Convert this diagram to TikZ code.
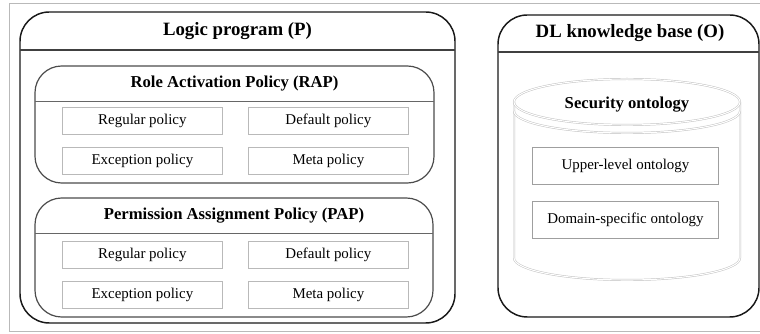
\documentclass[tikz,border=0pt]{standalone}
\usepackage{fontspec}
\setmainfont{Liberation Serif}
\def\px{0.75pt}
\begin{document}
\begin{tikzpicture}[x=0.75pt,y=-0.75pt,
  container/.style={draw=black!90, line width=1.1pt, rounded corners=22pt,
    anchor=north west, inner sep=0pt, outer sep=0pt},
  subcontainer/.style={draw=black!70, line width=0.9pt, rounded corners=20pt,
    anchor=north west, inner sep=0pt, outer sep=0pt},
  divider/.style={draw=black!75, line width=1pt},
  subdivider/.style={draw=black!60, line width=0.7pt},
  title/.style={font=\bfseries\fontsize{14.1}{16}\selectfont},
  subtitle/.style={font=\bfseries\fontsize{12.5}{15}\selectfont},
  policy/.style={draw=gray!55, line width=0.6pt, anchor=north west,
    minimum width=160*\px, minimum height=27*\px, inner sep=0pt,
    font=\fontsize{11.2}{13}\selectfont},
  ontobox/.style={draw=gray!75, line width=0.7pt, anchor=north west,
    minimum width=186*\px, minimum height=37.5*\px, inner sep=0pt,
    font=\fontsize{11.2}{13}\selectfont},
  cyl/.style={draw=gray!50, line width=0.35pt, double=white, double distance=0.8pt}
]
\useasboundingbox (0,0) rectangle (760,334);

% page frame
\draw[gray!55, line width=0.75pt] (9,4) rectangle (775,332);

% ---------- Logic program ----------
\node[container, minimum width=435*\px, minimum height=311*\px] (lp) at (20,12) {};
\coordinate (lpl) at (20,50);
\coordinate (lpr) at (455,50);
\draw[divider] (lpl) -- (lpr);
\node[title] (lptitle) at (237.5,31) {Logic program (P)};

% Role Activation Policy
\node[subcontainer, minimum width=399*\px, minimum height=117*\px] (rap) at (35,66) {};
\coordinate (rapl) at (35,101);
\coordinate (rapr) at (434,101);
\draw[subdivider] (rapl) -- (rapr);
\node[subtitle] (raptitle) at (234.5,84) {Role Activation Policy (RAP)};
\node[policy] (rapreg) at (62,107) {Regular policy};
\node[policy] (rapdef) at (248,107) {Default policy};
\node[policy] (rapexc) at (62,147) {Exception policy};
\node[policy] (rapmeta) at (248,147) {Meta policy};

% Permission Assignment Policy
\node[subcontainer, minimum width=398*\px, minimum height=119*\px] (pap) at (35,198) {};
\coordinate (papl) at (35,233);
\coordinate (papr) at (433,233);
\draw[subdivider] (papl) -- (papr);
\node[subtitle] (paptitle) at (234,216) {Permission Assignment Policy (PAP)};
\node[policy] (papreg) at (62,241) {Regular policy};
\node[policy] (papdef) at (248,241) {Default policy};
\node[policy] (papexc) at (62,281) {Exception policy};
\node[policy] (papmeta) at (248,281) {Meta policy};

% ---------- DL knowledge base ----------
\node[container, minimum width=261*\px, minimum height=302*\px] (dl) at (498,15) {};
\coordinate (dll) at (498,52);
\coordinate (dlr) at (759,52);
\draw[divider] (dll) -- (dlr);
\node[title] (dltitle) at (630,33) {DL knowledge base (O)};

% security ontology cylinder
\draw[cyl] (514,102) -- (514,258)
  arc[start angle=180, end angle=0, x radius=113, y radius=22] -- (740,102);
\draw[cyl] (627,102) ellipse [x radius=113, y radius=23];
\draw[cyl] (514,111) arc[start angle=180, end angle=0, x radius=113, y radius=22];
\node[subtitle] (sectitle) at (627,105) {Security ontology};
\node[ontobox] (upper) at (532,147) {Upper-level ontology};
\node[ontobox] (domain) at (532,201) {Domain-specific ontology};
\end{tikzpicture}
\end{document}
